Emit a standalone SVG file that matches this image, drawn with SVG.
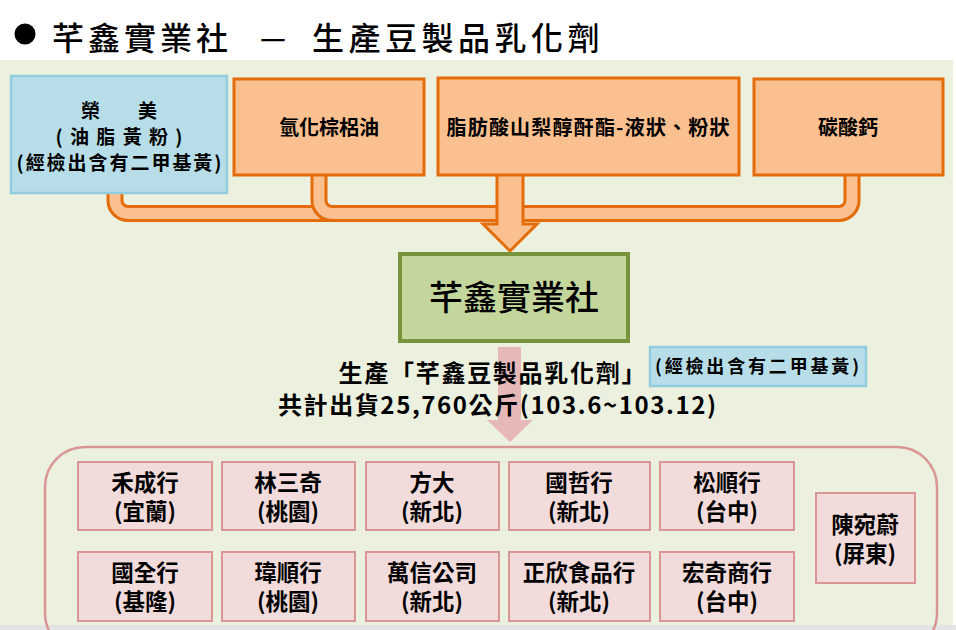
<svg xmlns="http://www.w3.org/2000/svg" width="956" height="630" viewBox="0 0 956 630">
<style>
text{font-family:"Noto Sans CJK TC","Noto Sans CJK SC",sans-serif;fill:#000;text-anchor:middle;dominant-baseline:central}
.t{font-size:20px;font-weight:bold}
.b{font-size:19px;font-weight:bold}
.s{font-size:22.5px;font-weight:bold}
.orange{fill:#fac090;stroke:#e46c0a;stroke-width:3}
.pink{fill:#f2dcdb;stroke:#d99694;stroke-width:2}
.blue{fill:#b7dee8;stroke:#93cddd;stroke-width:2.5}
.tubeO{fill:none;stroke:#e46c0a;stroke-width:17}
.tubeI{fill:none;stroke:#fac090;stroke-width:11}
</style>
<rect x="0" y="0" width="956" height="630" fill="#ffffff"/>
<rect x="0" y="60" width="953" height="565" fill="#ebf1de"/>
<rect x="0" y="625" width="956" height="5" fill="#e4e4e4"/>
<g id="title">
<circle cx="25" cy="34" r="10.5" fill="#000"/>
<text x="52" y="36" style="font-size:32px;font-weight:500;text-anchor:start;letter-spacing:4px">芊鑫實業社</text>
<text x="273" y="38" style="font-size:32px">－</text>
<text x="312" y="36" style="font-size:32px;font-weight:500;text-anchor:start;letter-spacing:4.5px">生產豆製品乳化劑</text>
</g>
<g id="connectors">
<path class="tubeO" d="M115 185 V200 A13 13 0 0 0 128 213.5 H505"/>
<path class="tubeI" d="M115 185 V200 A13 13 0 0 0 128 213.5 H505"/>
<path class="tubeO" d="M319 170 V200 A13 13 0 0 0 332 213.5 H505"/>
<path class="tubeI" d="M319 170 V200 A13 13 0 0 0 332 213.5 H505"/>
<path class="tubeO" d="M852 170 V200 A13 13 0 0 1 839 213.5 H515"/>
<path class="tubeI" d="M852 170 V200 A13 13 0 0 1 839 213.5 H515"/>
<polygon class="orange" points="497,172 523,172 523,224 537,224 510,251 483,224 497,224"/>
<polygon points="498,347 521,347 521,420 533,420 510,442 487,420 498,420" fill="#e6b9b8"/>
</g>
<g id="n-rongmei">
<rect class="blue" x="11" y="76" width="216" height="117"/>
<text class="b" x="119" y="109">榮　　美</text>
<text class="b" x="119" y="135" textLength="127">( 油 脂 黃 粉 )</text>
<text class="b" x="119" y="161" textLength="205">(經檢出含有二甲基黃)</text>
</g>
<g id="n-palm">
<rect class="orange" x="234" y="79" width="190" height="96"/>
<text class="t" x="329" y="126">氫化棕梠油</text>
</g>
<g id="n-sorbitan">
<rect class="orange" x="438" y="78" width="301" height="97"/>
<text class="t" x="588" y="126" textLength="283">脂肪酸山梨醇酐酯-液狀、粉狀</text>
</g>
<g id="n-caco3">
<rect class="orange" x="754" y="79" width="189" height="96"/>
<text class="t" x="848" y="126">碳酸鈣</text>
</g>
<g id="n-main">
<rect x="400" y="254" width="228" height="87" fill="#c3d69b" stroke="#77933c" stroke-width="4"/>
<text x="514" y="295" style="font-size:34px;font-weight:500">芊鑫實業社</text>
</g>
<g id="n-product">
<text x="492" y="371" style="font-size:24px;font-weight:bold" textLength="307">生產「芊鑫豆製品乳化劑」</text>
<text x="497" y="403" style="font-size:24px;font-weight:bold" textLength="438">共計出貨25,760公斤(103.6~103.12)</text>
</g>
<g id="n-label">
<rect class="blue" x="650" y="347" width="216" height="39"/>
<text x="757" y="365" style="font-size:18px;font-weight:bold" textLength="204">(經檢出含有二甲基黃)</text>
</g>
<g id="n-buyers">
<rect x="45" y="447" width="892" height="206" rx="40" fill="none" stroke="#d99694" stroke-width="2.5"/>
</g>
<g id="n-b1"><rect class="pink" x="78" y="462" width="134" height="68"/><text class="s" x="145" y="481">禾成行</text><text class="s" x="145" y="510">(宜蘭)</text></g>
<g id="n-b2"><rect class="pink" x="222" y="462" width="133" height="68"/><text class="s" x="288" y="481">林三奇</text><text class="s" x="288" y="510">(桃園)</text></g>
<g id="n-b3"><rect class="pink" x="366" y="462" width="133" height="68"/><text class="s" x="432" y="481">方大</text><text class="s" x="432" y="510">(新北)</text></g>
<g id="n-b4"><rect class="pink" x="509" y="462" width="141" height="68"/><text class="s" x="579" y="481">國哲行</text><text class="s" x="579" y="510">(新北)</text></g>
<g id="n-b5"><rect class="pink" x="660" y="462" width="134" height="68"/><text class="s" x="727" y="481">松順行</text><text class="s" x="727" y="510">(台中)</text></g>
<g id="n-b6"><rect class="pink" x="78" y="552" width="134" height="69"/><text class="s" x="145" y="571">國全行</text><text class="s" x="145" y="600">(基隆)</text></g>
<g id="n-b7"><rect class="pink" x="222" y="552" width="133" height="69"/><text class="s" x="288" y="571">瑋順行</text><text class="s" x="288" y="600">(桃園)</text></g>
<g id="n-b8"><rect class="pink" x="366" y="552" width="133" height="69"/><text class="s" x="432" y="571">萬信公司</text><text class="s" x="432" y="600">(新北)</text></g>
<g id="n-b9"><rect class="pink" x="509" y="552" width="141" height="69"/><text class="s" x="579" y="571">正欣食品行</text><text class="s" x="579" y="600">(新北)</text></g>
<g id="n-b10"><rect class="pink" x="660" y="552" width="134" height="69"/><text class="s" x="727" y="571">宏奇商行</text><text class="s" x="727" y="600">(台中)</text></g>
<g id="n-b11"><rect class="pink" x="816" y="493" width="99" height="90"/><text class="s" x="865" y="523">陳宛蔚</text><text class="s" x="865" y="552">(屏東)</text></g>
</svg>
